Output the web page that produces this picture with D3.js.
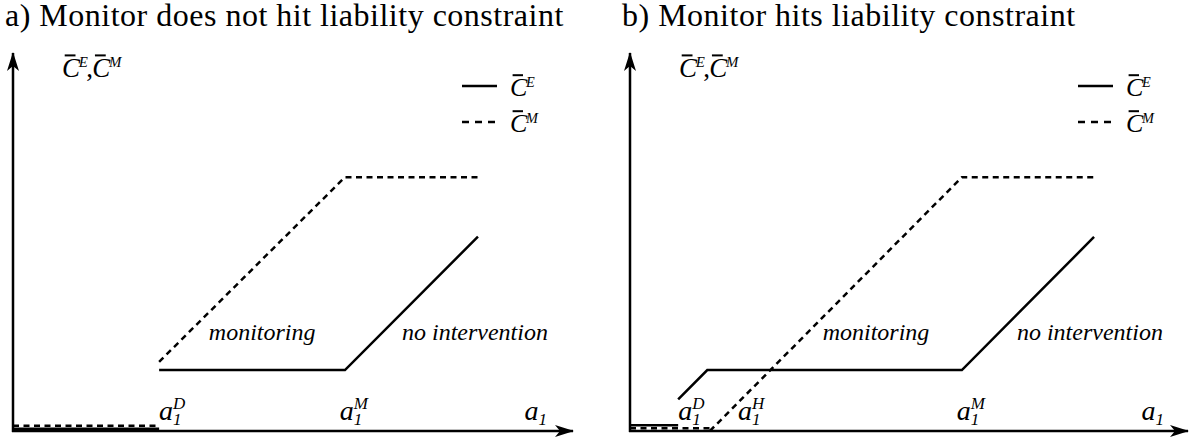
<!DOCTYPE html>
<html>
<head>
<meta charset="utf-8">
<script src="https://cdn.jsdelivr.net/npm/d3@7"></script>
</head>
<body style="margin:0">
<div style="position:absolute;left:-2000px;top:0;font-family:'Liberation Serif';">Monitor <i>monitoring C a</i></div>
<svg id="chart" width="1191" height="441" font-family="Liberation Serif, DejaVu Serif"></svg>
<script>
// panel titles
var titles = ["a) Monitor does not hit liability constraint", "b) Monitor hits liability constraint"];

// curves in model units (x: a1, y: cost), one list of segments per panel
var solidA = [
  [[0, 0.06], [3.9, 0.06]],
  [[3.9, 1.62], [8.86, 1.62], [12.41, 5.17]]
];
var dashedA = [
  [[0, 0.14], [3.9, 0.14]],
  [[3.9, 1.84], [8.86, 6.75], [12.41, 6.75]]
];
var solidB = [
  [[0, 0.15], [1.29, 0.15]],
  [[1.29, 0.84], [2.07, 1.62], [8.89, 1.62], [12.43, 5.16]]
];
var dashedB = [
  [[0, 0.07], [2.14, 0.07]],
  [[2.14, 0], [8.89, 6.75], [12.43, 6.75]]
];

// x tick labels: a_1 with superscript
var ticksA = [{ x: 3.9, sup: "D" }, { x: 8.72, sup: "M" }, { x: 13.65, sup: "" }];
var ticksB = [{ x: 1.29, sup: "D" }, { x: 2.89, sup: "H" }, { x: 8.75, sup: "M" }, { x: 13.7, sup: "" }];

// region labels
var regionsA = [{ x: 6.65, y: 2.42, text: "monitoring" }, { x: 12.33, y: 2.42, text: "no intervention" }];
var regionsB = [{ x: 6.59, y: 2.42, text: "monitoring" }, { x: 12.32, y: 2.42, text: "no intervention" }];

var legendItems = [{ sup: "E", dash: null }, { sup: "M", dash: "7,6" }];

var font = "Liberation Serif, DejaVu Serif";
var svg = d3.select("#chart");

// C with a bar and a superscript, as one text
function cbar(g, x, y, size, parts) {
  var t = g.append("text")
    .attr("y", y)
    .attr("font-family", font)
    .attr("font-style", "italic")
    .attr("font-size", size);
  parts.forEach(function (p) {
    if (p === ",") {
      t.append("tspan").attr("x", x + 0.9 * size).attr("y", y)
        .attr("font-style", "normal").text(",");
      x += 1.12 * size;
      return;
    }
    t.append("tspan").attr("x", x).attr("y", y).text("C");
    t.append("tspan").attr("x", x + 0.62 * size).attr("y", y - 0.36 * size)
      .attr("font-size", size * 0.55).text(p);
    g.append("line")
      .attr("x1", x + 0.1 * size).attr("x2", x + 0.5 * size)
      .attr("y1", y - 0.8 * size).attr("y2", y - 0.8 * size)
      .attr("stroke", "black").attr("stroke-width", 2);
  });
}

function drawPanel(cfg) {
  var x = d3.scaleLinear().domain([0, 15]).range(cfg.xRange);
  var y = d3.scaleLinear().domain([0, 10]).range([431, 55]);
  var g = svg;

  var line = d3.line().x(function (d) { return x(d[0]); }).y(function (d) { return y(d[1]); });

  // title
  g.append("text")
    .attr("x", cfg.titleX).attr("y", 26)
    .attr("font-family", font)
    .attr("font-size", 32)
    .attr("letter-spacing", 0.5)
    .text(cfg.title);

  // axes with arrows
  g.append("line")
    .attr("x1", x(0)).attr("y1", y(0) + 1).attr("x2", x(0)).attr("y2", y(10) - 2)
    .attr("stroke", "black").attr("stroke-width", 2.5)
    .attr("marker-end", "url(#arrow)");
  g.append("line")
    .attr("x1", x(0) - 1).attr("y1", y(0)).attr("x2", x(15) - 2).attr("y2", y(0))
    .attr("stroke", "black").attr("stroke-width", 2.5)
    .attr("marker-end", "url(#arrow)");

  // curves
  cfg.solid.forEach(function (seg) {
    g.append("path").attr("d", line(seg))
      .attr("fill", "none").attr("stroke", "black").attr("stroke-width", 2.5);
  });
  cfg.dashed.forEach(function (seg) {
    g.append("path").attr("d", line(seg))
      .attr("fill", "none").attr("stroke", "black").attr("stroke-width", 2.5)
      .attr("stroke-dasharray", "6,4.5");
  });

  // y axis label
  cbar(g, x(0) + 49, 77, 27, ["E", ",", "M"]);

  // x tick labels, a with subscript 1 and superscript stacked
  cfg.ticks.forEach(function (t) {
    var tx = x(t.x);
    var tt = g.append("text")
      .attr("y", 420)
      .attr("font-family", font)
      .attr("font-style", "italic")
      .attr("font-size", 28);
    tt.append("tspan").attr("x", tx).attr("y", 420).text("a");
    tt.append("tspan").attr("x", tx + 14).attr("y", 425)
      .attr("font-size", 17).text("1");
    if (t.sup) {
      tt.append("tspan").attr("x", tx + 14).attr("y", 409)
        .attr("font-size", 17).text(t.sup);
    }
  });

  // region labels
  cfg.regions.forEach(function (d) {
    g.append("text")
      .attr("x", x(d.x)).attr("y", y(d.y))
      .attr("text-anchor", "middle")
      .attr("font-family", font)
      .attr("font-style", "italic")
      .attr("font-size", 24)
      .text(d.text);
  });

  // legend
  legendItems.forEach(function (it, i) {
    var ly = 86 + i * 36;
    g.append("line")
      .attr("x1", cfg.legendX).attr("x2", cfg.legendX + 35)
      .attr("y1", ly).attr("y2", ly)
      .attr("stroke", "black").attr("stroke-width", 2.5)
      .attr("stroke-dasharray", it.dash);
    cbar(g, cfg.legendX + 48, ly + 10, 26, [it.sup]);
  });
}

svg.append("defs").append("marker")
  .attr("id", "arrow")
  .attr("markerUnits", "userSpaceOnUse")
  .attr("viewBox", "-20 -8 22 16")
  .attr("refX", 0).attr("refY", 0)
  .attr("markerWidth", 22).attr("markerHeight", 16)
  .attr("orient", "auto")
  .append("path")
  .attr("d", "M1,0 L-18,-6 L-13,0 L-18,6 Z")
  .attr("fill", "black");

drawPanel({
  title: titles[0], titleX: 5, xRange: [13, 575],
  solid: solidA, dashed: dashedA, ticks: ticksA, regions: regionsA, legendX: 462
});
drawPanel({
  title: titles[1], titleX: 622, xRange: [630, 1190],
  solid: solidB, dashed: dashedB, ticks: ticksB, regions: regionsB, legendX: 1078
});
</script>
</body>
</html>
